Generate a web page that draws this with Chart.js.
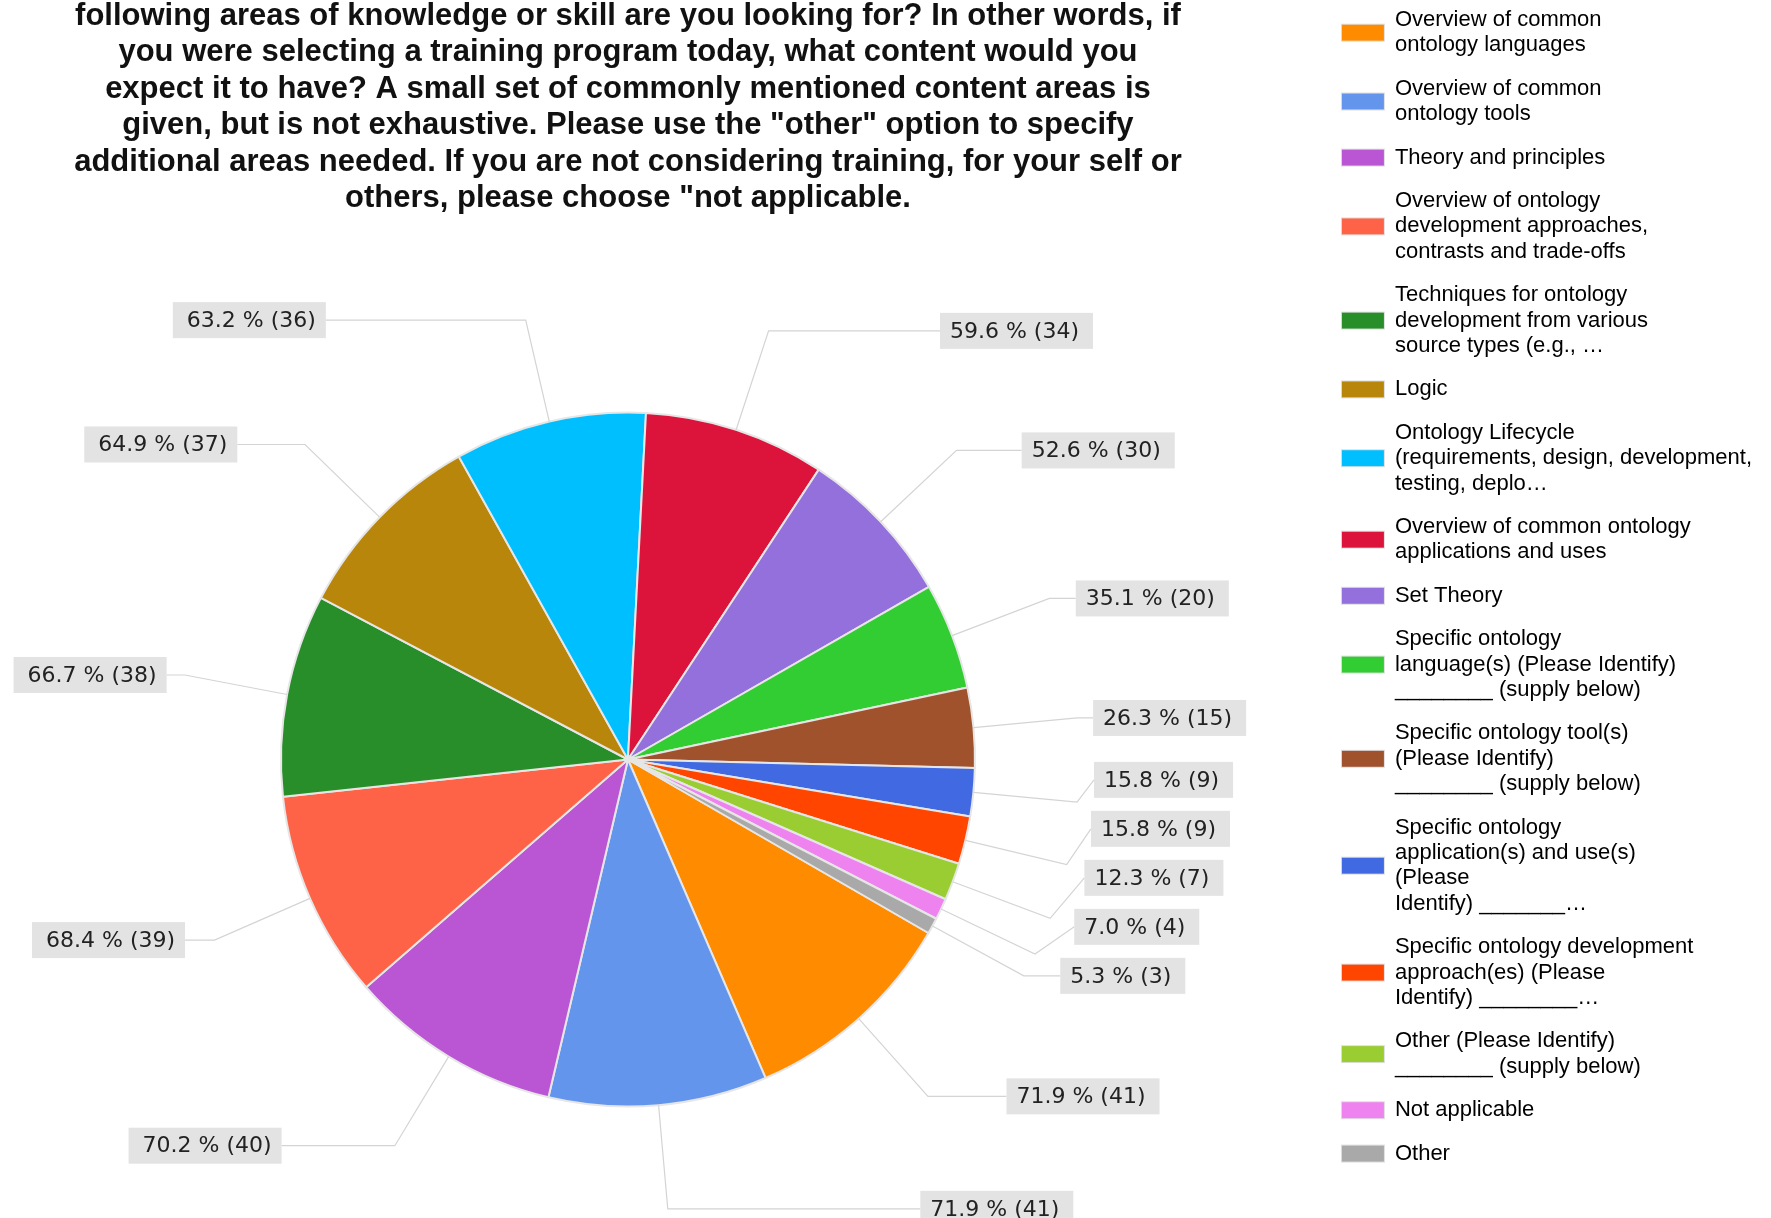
<!DOCTYPE html>
<html>
<head>
<meta charset="utf-8">
<script src="https://cdn.jsdelivr.net/npm/chart.js@4.4.1/dist/chart.umd.min.js"></script>
<style>
  html, body { margin: 0; padding: 0; background: #fff; overflow: hidden; }
  body { width: 1771px; height: 1218px; position: relative; }
  #wrap { position: absolute; left: -68px; top: -9px; }
</style>
</head>
<body>
<div id="wrap"><canvas id="chart" width="1839" height="1227"></canvas></div>
<script>
// question text (first line is cut off at the top in the original)
const titleLines = [
  'following areas of knowledge or skill are you looking for? In other words, if',
  'you were selecting a training program today, what content would you',
  'expect it to have? A small set of commonly mentioned content areas is',
  'given, but is not exhaustive. Please use the "other" option to specify',
  'additional areas needed. If you are not considering training, for your self or',
  'others, please choose "not applicable.'
];

// answer options, as the legend shows them (one entry per line)
const categories = [
  ['Overview of common', 'ontology languages'],
  ['Overview of common', 'ontology tools'],
  ['Theory and principles'],
  ['Overview of ontology', 'development approaches,', 'contrasts and trade-offs'],
  ['Techniques for ontology', 'development from various', 'source types (e.g., \u2026'],
  ['Logic'],
  ['Ontology Lifecycle', '(requirements, design, development,', 'testing, deplo\u2026'],
  ['Overview of common ontology', 'applications and uses'],
  ['Set Theory'],
  ['Specific ontology', 'language(s) (Please Identify)', '________ (supply below)'],
  ['Specific ontology tool(s)', '(Please Identify)', '________ (supply below)'],
  ['Specific ontology', 'application(s) and use(s)', '(Please', 'Identify) _______\u2026'],
  ['Specific ontology development', 'approach(es) (Please', 'Identify) ________\u2026'],
  ['Other (Please Identify)', '________ (supply below)'],
  ['Not applicable'],
  ['Other']
];

// number of respondents who picked each option
const counts = [41, 41, 40, 39, 38, 37, 36, 34, 30, 20, 15, 9, 9, 7, 4, 3];
const respondents = 57;

const colors = [
  '#ff8c00', '#6495ed', '#ba55d3', '#ff6347', '#278e29', '#b8860b', '#00bfff', '#dc143c',
  '#9370db', '#32cd32', '#a0522d', '#4169e1', '#ff4500', '#9acd32', '#ee82ee', '#a9a9a9'
];

const labelText = v => (v / respondents * 100).toFixed(1) + ' % (' + v + ')';

// keep at least "gap" between neighbours (pool adjacent violators)
function spread(list, gap) {
  const blocks = [];
  list.forEach((item, i) => {
    blocks.push({ start: i, n: 1, sum: item.y - i * gap });
    while (blocks.length > 1) {
      const b = blocks[blocks.length - 1];
      const a = blocks[blocks.length - 2];
      if (a.sum / a.n <= b.sum / b.n) break;
      a.sum += b.sum;
      a.n += b.n;
      blocks.pop();
    }
  });
  blocks.forEach(b => {
    const z = b.sum / b.n;
    for (let k = 0; k < b.n; k++) list[b.start + k].y = z + (b.start + k) * gap;
  });
}

// labels above the centre are pushed down, labels below pushed up, then any clash in the middle is shared
function stack(list, cy, gap) {
  list.sort((a, b) => a.ideal - b.ideal);
  const upper = list.filter(d => d.ideal < cy);
  const lower = list.filter(d => d.ideal >= cy);
  let prev = -Infinity;
  upper.forEach(d => { d.y = Math.max(d.ideal, prev + gap); prev = d.y; });
  let next = Infinity;
  lower.slice().reverse().forEach(d => { d.y = Math.min(d.ideal, next - gap); next = d.y; });
  spread(list, gap);
}

// percentage callouts with leader lines
const sliceLabels = {
  id: 'sliceLabels',
  afterDatasetsDraw(chart) {
    const ctx = chart.ctx;
    const meta = chart.getDatasetMeta(0);
    ctx.save();
    ctx.font = '22px "DejaVu Sans", Verdana, sans-serif';
    const items = meta.data.map((arc, i) => {
      const p = arc.getProps(['x', 'y', 'startAngle', 'endAngle', 'outerRadius'], true);
      const mid = (p.startAngle + p.endAngle) / 2;
      const c = Math.cos(mid), s = Math.sin(mid);
      const r = p.outerRadius;
      return {
        cx: p.x, cy: p.y, r,
        right: c >= 0,
        edge: [p.x + c * r, p.y + s * r],
        elbow: [p.x + c * r * 1.3, p.y + s * r * 1.3],
        ideal: p.y + s * r * 1.3,
        text: labelText(counts[i])
      };
    });
    const cy = items[0].cy;
    stack(items.filter(d => d.right), cy, 49);
    stack(items.filter(d => !d.right), cy, 49);

    items.forEach(d => {
      const a = d.r * 1.344, b = d.r * 1.662;
      const dy = (d.y - d.cy) / b;
      const dx = a * Math.sqrt(Math.max(0, 1 - dy * dy));
      d.innerX = d.right ? d.cx + dx : d.cx - dx;
      d.w = ctx.measureText(d.text).width + 24;
      d.boxX = d.right ? d.innerX : d.innerX - d.w;
      d.textX = d.right ? d.boxX + 10 : d.boxX + 14;
    });

    ctx.strokeStyle = '#d4d4d4';
    ctx.lineWidth = 1.2;
    items.forEach(d => {
      ctx.beginPath();
      ctx.moveTo(d.edge[0], d.edge[1]);
      ctx.lineTo(d.elbow[0], d.elbow[1]);
      ctx.lineTo(d.innerX, d.y);
      ctx.stroke();
    });

    ctx.textBaseline = 'middle';
    ctx.textAlign = 'left';
    items.forEach(d => {
      ctx.fillStyle = '#e3e3e3';
      ctx.fillRect(d.boxX, d.y - 18, d.w, 36);
      ctx.fillStyle = '#222';
      ctx.fillText(d.text, d.textX, d.y + 1);
    });
    ctx.restore();
  }
};

// colour swatches centred on each (possibly multi-line) legend entry
const legendSwatches = {
  id: 'legendSwatches',
  afterDraw(chart) {
    const legend = chart.legend;
    if (!legend || !legend.legendHitBoxes) return;
    const ctx = chart.ctx;
    const lh = legend.options.labels.font.size * legend.options.labels.font.lineHeight;
    ctx.save();
    legend.legendHitBoxes.forEach((hb, i) => {
      const n = categories[i].length;
      const mid = hb.top + 11 + (n - 1) * lh / 2;
      ctx.fillStyle = colors[i];
      ctx.fillRect(hb.left, mid - 8, 42, 16);
      ctx.strokeStyle = 'rgba(0,0,0,0.13)';
      ctx.lineWidth = 1;
      ctx.strokeRect(hb.left - 0.5, mid - 8.5, 43, 17);
    });
    ctx.restore();
  }
};

Chart.defaults.font.family = '"Liberation Sans", Arial, sans-serif';

new Chart(document.getElementById('chart'), {
  type: 'pie',
  data: {
    labels: categories,
    datasets: [{
      data: counts,
      backgroundColor: colors,
      borderColor: '#e6e6e6',
      borderWidth: 2,
      hoverOffset: 0
    }]
  },
  options: {
    responsive: false,
    devicePixelRatio: 1,
    animation: false,
    rotation: 120,
    radius: 347,
    layout: { padding: { right: 9 } },
    events: [],
    plugins: {
      tooltip: { enabled: false },
      title: {
        display: true,
        text: titleLines,
        fullSize: false,
        color: '#111',
        font: { size: 31, weight: 'bold', lineHeight: 36.5 / 31 },
        padding: { top: 7, bottom: 84 }
      },
      legend: {
        position: 'right',
        align: 'start',
        labels: {
          color: '#222',
          font: { size: 22, lineHeight: 25.4 / 22 },
          boxWidth: 42,
          boxHeight: 16,
          padding: 18,
          generateLabels: () => categories.map((lines, i) => ({
            text: lines,
            fillStyle: 'rgba(0,0,0,0)',
            strokeStyle: 'rgba(0,0,0,0)',
            lineWidth: 0,
            hidden: false,
            index: i
          }))
        }
      }
    }
  },
  plugins: [sliceLabels, legendSwatches]
});
</script>
</body>
</html>
